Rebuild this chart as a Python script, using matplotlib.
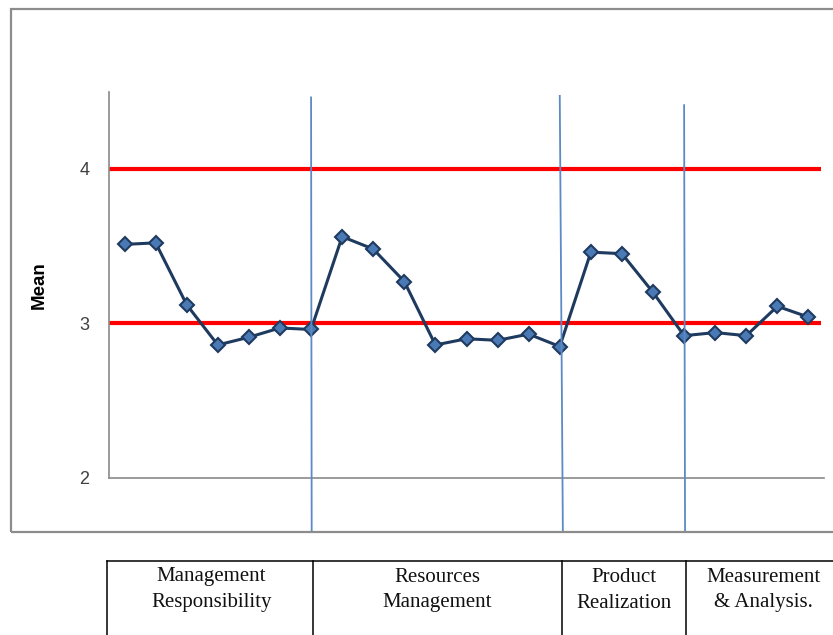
import matplotlib
matplotlib.use("Agg")
import matplotlib.pyplot as plt
from matplotlib.patches import Rectangle
from matplotlib.lines import Line2D
import matplotlib.transforms as mtransforms

# Item means, in questionnaire order
item_means = [3.51, 3.52, 3.12, 2.86, 2.91, 2.97, 2.96,
              3.56, 3.48, 3.27, 2.86, 2.90, 2.89, 2.93, 2.85,
              3.46, 3.45, 3.20, 2.92, 2.94, 2.92, 3.11, 3.04]
items = list(range(1, len(item_means) + 1))

# Reference levels
reference_levels = [3, 4]

# Section dividers (item positions) and section names
section_bounds = [7, 15, 19]
section_names = ["Management\nResponsibility", "Resources\nManagement",
                 "Product\nRealization", "Measurement\n& Analysis."]

y_ticks = [2, 3, 4]

W, H = 833, 635
fig = plt.figure(figsize=(W / 100, H / 100), dpi=100)

def fx(px):
    return px / W

def fy(py):
    return 1 - py / H

# outer frame
fig.patches.append(Rectangle((fx(11), fy(532)), fx(850 - 11), fy(9) - fy(532),
                             transform=fig.transFigure, fill=False,
                             edgecolor="#8c8c8c", lw=1.6, zorder=0))

ax = fig.add_axes([fx(109), fy(478), fx(824 - 109), fy(92) - fy(478)])
ax.set_xlim(0.5, 23.5)
ax.set_ylim(2, 2 + 386 / 154.7)

for s in ["top", "right"]:
    ax.spines[s].set_visible(False)
for s in ["left", "bottom"]:
    ax.spines[s].set_color("#8a8a8a")
    ax.spines[s].set_linewidth(1.2)

ax.set_xticks([])
ax.set_yticks(y_ticks)
ax.set_yticklabels([str(t) for t in y_ticks], fontsize=13,
                   color="#404040", family="Liberation Sans")
ax.tick_params(axis="y", length=0, pad=14)

ax.hlines(reference_levels, 0.45, 23.4, colors="#ff0000", lw=3.0, zorder=2)

ax.plot(items, item_means, color="#1f3a5f", lw=2.2, marker="D",
        markersize=7, markerfacecolor="#4a7ab5", markeredgecolor="#1f3a5f",
        markeredgewidth=1.5, zorder=3)

# section dividers, running from the plot top down to the frame
blend = mtransforms.blended_transform_factory(ax.transData, fig.transFigure)
divider_tops = [4.46, 4.47, 4.41]
divider_tilt = [0.02, 0.1, 0.03]
for b, top, tilt in zip(section_bounds, divider_tops, divider_tilt):
    ax.plot([b, b + tilt], [top, 2 - (532 - 478) / 154.7], color="#5b8ac6",
            lw=1.3, clip_on=False, zorder=4)

fig.text(fx(39), fy(285), "Mean", rotation=90, fontsize=13.5,
         fontweight="bold", ha="center", va="center", family="Liberation Sans")

# section table under the chart
col_shift = mtransforms.ScaledTranslation(2 / 100, 0, fig.dpi_scale_trans)
edges = [0.45] + section_bounds + [24.0]
table_top = fy(561)
fig.add_artist(Line2D([fx(107), 1.0], [table_top, table_top],
                      transform=fig.transFigure, color="black", lw=1.1))
fig.add_artist(Line2D([fx(107), fx(107)], [table_top, 0],
                      transform=fig.transFigure, color="black", lw=1.1))
for e in edges[1:-1]:
    fig.add_artist(Line2D([e, e], [table_top, 0], transform=blend + col_shift,
                          color="black", lw=1.1))
for left, right, name in zip(edges[:-1], edges[1:], section_names):
    fig.text((left + right) / 2, fy(590), name, transform=blend + col_shift,
             ha="center", va="center", fontsize=15, linespacing=1.5,
             family="Liberation Serif", color="#111111")

fig.savefig("out.png", dpi=100)
